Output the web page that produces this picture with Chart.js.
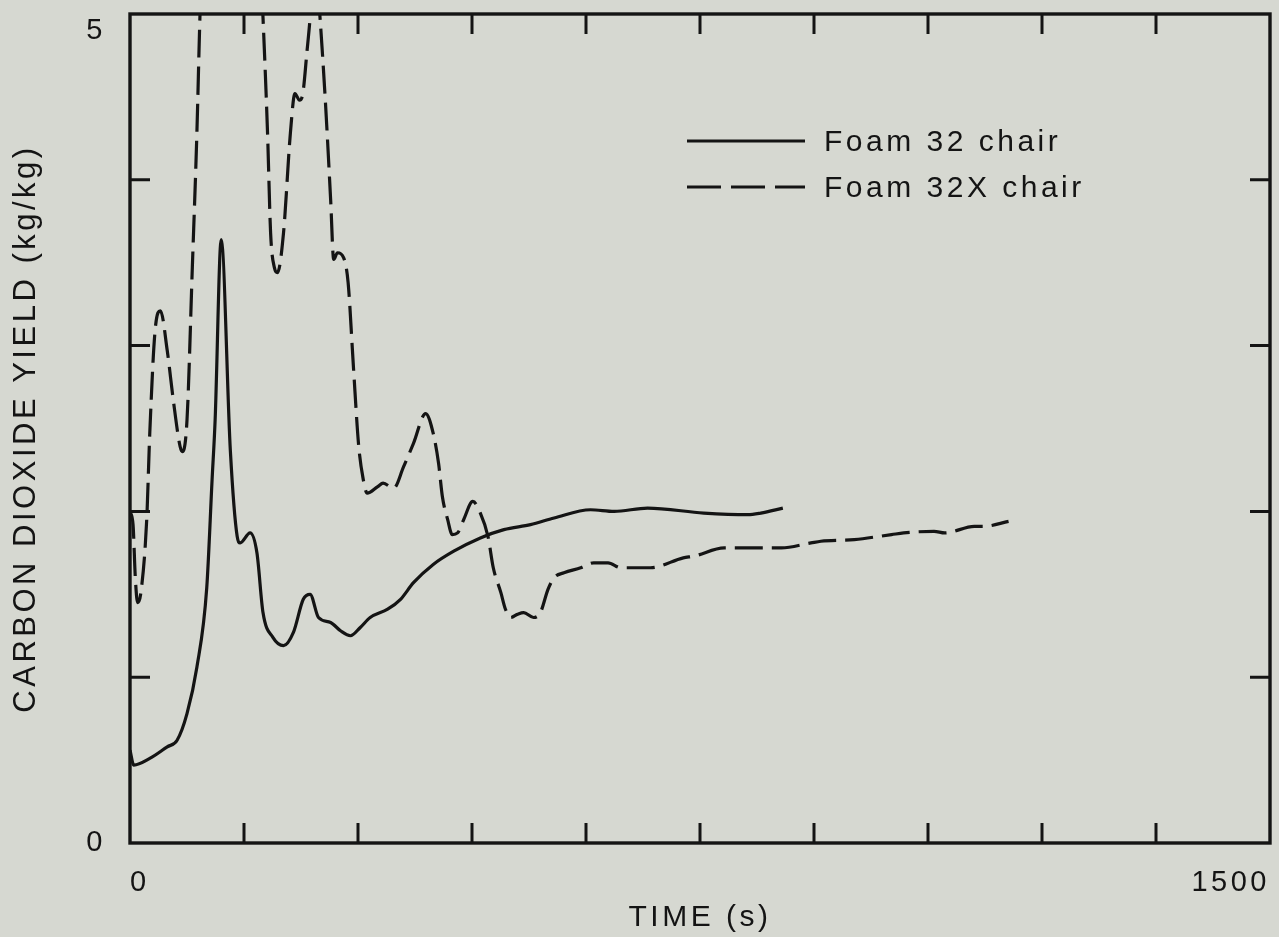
<!DOCTYPE html>
<html>
<head>
<meta charset="utf-8">
<script src="https://cdn.jsdelivr.net/npm/chart.js@4.4.1/dist/chart.umd.min.js"></script>
<style>
  html, body { margin: 0; padding: 0; background: #d6d8d1; }
  canvas { display: block; }
</style>
</head>
<body>
<canvas id="co2Chart" width="1279" height="937"></canvas>
<script>
// Foam 32 chair (solid)
const foam32Time = [0, 5, 26, 49, 62, 75, 88, 101, 108, 112, 120, 132, 141, 145, 158, 167, 175, 188, 202, 215, 228, 237, 248, 264, 277, 290, 303, 316, 339, 356, 373, 399, 426, 461, 492, 527, 558, 606, 637, 681, 755, 813, 830, 859];
const foam32Yield = [0.56, 0.47, 0.51, 0.58, 0.62, 0.78, 1.06, 1.54, 2.19, 2.55, 3.64, 2.37, 1.85, 1.81, 1.87, 1.75, 1.39, 1.24, 1.19, 1.27, 1.47, 1.50, 1.36, 1.33, 1.28, 1.25, 1.30, 1.36, 1.41, 1.47, 1.57, 1.68, 1.76, 1.84, 1.89, 1.92, 1.96, 2.01, 2.00, 2.02, 1.99, 1.98, 1.99, 2.02];

// Foam 32X chair (dashed), goes off the top of the plot twice
const foam32xTime = [0, 4, 7, 10, 14, 22, 26, 33, 40, 49, 57, 66, 69, 75, 82, 88, 92, 100, 165, 175, 181, 185, 190, 194, 202, 211, 217, 223, 227, 233, 237, 243, 250, 257, 264, 268, 273, 281, 287, 294, 301, 307, 312, 326, 333, 347, 360, 373, 389, 399, 406, 411, 418, 424, 431, 439, 451, 461, 471, 478, 488, 494, 501, 510, 518, 531, 540, 550, 558, 571, 593, 610, 629, 646, 663, 685, 728, 742, 782, 797, 841, 857, 896, 909, 953, 1002, 1018, 1058, 1072, 1111, 1124, 1156];
const foam32xYield = [2.00, 1.92, 1.60, 1.45, 1.50, 1.95, 2.47, 3.09, 3.21, 2.97, 2.67, 2.39, 2.36, 2.55, 3.47, 4.28, 4.98, 6.0, 6.0, 4.98, 4.28, 3.68, 3.47, 3.44, 3.68, 4.28, 4.52, 4.48, 4.51, 4.78, 4.98, 5.4, 4.98, 4.48, 3.88, 3.52, 3.56, 3.53, 3.38, 2.87, 2.39, 2.19, 2.11, 2.15, 2.17, 2.14, 2.27, 2.41, 2.59, 2.47, 2.29, 2.09, 1.95, 1.86, 1.87, 1.95, 2.06, 1.99, 1.85, 1.66, 1.51, 1.41, 1.36, 1.38, 1.39, 1.36, 1.39, 1.53, 1.60, 1.63, 1.66, 1.69, 1.69, 1.66, 1.66, 1.66, 1.72, 1.73, 1.78, 1.78, 1.78, 1.78, 1.81, 1.82, 1.83, 1.86, 1.87, 1.88, 1.87, 1.91, 1.91, 1.94];

const seriesNames = ['Foam 32 chair', 'Foam 32X chair'];
const xLabelValues = [0, 1500];
const yLabelValues = [0, 5];

const ink = '#141414';
const fontFamily = '"Liberation Sans", Arial, sans-serif';

function toPoints(xs, ys) {
    return xs.map((t, i) => ({ x: t, y: ys[i] }));
}

// fixed axis boxes, no extra label padding
function fixBox(size, horizontal) {
    return s => {
        if (horizontal) s.height = size; else s.width = size;
        s.paddingTop = 0; s.paddingBottom = 0; s.paddingLeft = 0; s.paddingRight = 0;
    };
}

// frame, inward ticks on all four sides and the in-plot legend
const framePlugin = {
    id: 'frame',
    beforeDraw(chart) {
        chart.ctx.letterSpacing = '3.5px';
    },
    afterDraw(chart) {
        const { ctx, chartArea: a, scales: { x, y } } = chart;
        const tickLen = 20;
        ctx.save();
        ctx.strokeStyle = ink;
        ctx.lineWidth = 3.4;
        ctx.strokeRect(a.left, a.top, a.width, a.height);

        ctx.lineWidth = 3;
        ctx.beginPath();
        x.ticks.forEach(t => {
            if (t.value <= x.min || t.value >= x.max) return;
            const px = x.getPixelForValue(t.value);
            ctx.moveTo(px, a.bottom); ctx.lineTo(px, a.bottom - tickLen);
            ctx.moveTo(px, a.top); ctx.lineTo(px, a.top + tickLen);
        });
        y.ticks.forEach(t => {
            if (t.value <= y.min || t.value >= y.max) return;
            const py = y.getPixelForValue(t.value);
            ctx.moveTo(a.left, py); ctx.lineTo(a.left + tickLen, py);
            ctx.moveTo(a.right, py); ctx.lineTo(a.right - tickLen, py);
        });
        ctx.stroke();

        // legend
        const lx0 = a.left + 557, lx1 = a.left + 675, tx = a.left + 694;
        const rows = [a.top + 127, a.top + 173];
        ctx.font = '30px ' + fontFamily;
        ctx.fillStyle = ink;
        ctx.textBaseline = 'middle';
        ctx.letterSpacing = '3.5px';
        chart.data.datasets.forEach((ds, i) => {
            ctx.setLineDash(i === 1 ? [34, 10] : []);
            ctx.lineWidth = 3;
            ctx.beginPath();
            ctx.moveTo(lx0, rows[i]);
            ctx.lineTo(lx1, rows[i]);
            ctx.stroke();
            ctx.setLineDash([]);
            ctx.fillText(ds.label, tx, rows[i] + 2);
        });
        ctx.restore();
    }
};

new Chart(document.getElementById('co2Chart'), {
    type: 'line',
    data: {
        datasets: [{
            label: seriesNames[0],
            data: toPoints(foam32Time, foam32Yield),
            borderColor: ink,
            borderWidth: 3.2,
            pointRadius: 0,
            cubicInterpolationMode: 'monotone'
        }, {
            label: seriesNames[1],
            data: toPoints(foam32xTime, foam32xYield),
            borderColor: ink,
            borderWidth: 3.2,
            borderDash: [28, 9],
            pointRadius: 0,
            cubicInterpolationMode: 'monotone'
        }]
    },
    options: {
        responsive: false,
        devicePixelRatio: 1,
        animation: false,
        layout: { padding: { top: 14, right: 9, left: 0, bottom: 0 } },
        plugins: { legend: { display: false }, tooltip: { enabled: false } },
        scales: {
            x: {
                type: 'linear', min: 0, max: 1500,
                grid: { display: false },
                border: { display: false },
                afterFit: fixBox(94, true),
                ticks: {
                    stepSize: 150, autoSkip: false, maxRotation: 0,
                    align: 'inner', padding: 15, color: ink,
                    font: { family: fontFamily, size: 29 },
                    callback: v => xLabelValues.includes(v) ? String(v) : ''
                },
                title: {
                    display: true, text: 'TIME (s)', color: ink,
                    font: { family: fontFamily, size: 30 },
                    padding: { top: 0, bottom: 1 }
                }
            },
            y: {
                type: 'linear', min: 0, max: 5,
                grid: { display: false },
                border: { display: false },
                afterFit: fixBox(130, false),
                ticks: {
                    stepSize: 1, autoSkip: false,
                    padding: 16, color: ink,
                    font: { family: fontFamily, size: 29 },
                    // top label sits just below the axis end, as in the source
                    callback: v => !yLabelValues.includes(v) ? '' : (v === 5 ? ['', String(v)] : String(v))
                },
                title: {
                    display: true, text: 'CARBON DIOXIDE YIELD (kg/kg)', color: ink,
                    font: { family: fontFamily, size: 31 },
                    padding: { top: 8, bottom: 0 }
                }
            }
        }
    },
    plugins: [framePlugin]
});
</script>
</body>
</html>
